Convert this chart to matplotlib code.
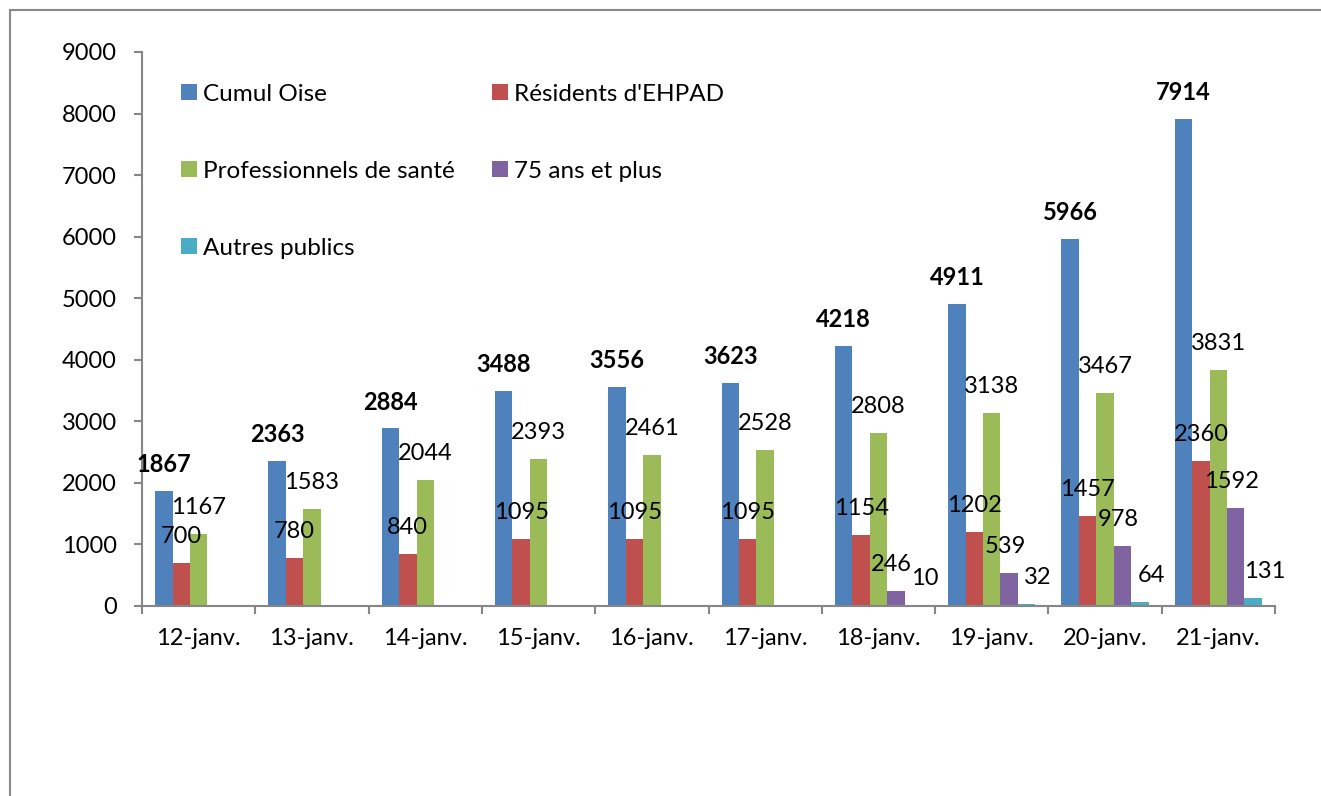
import numpy as np
import matplotlib.pyplot as plt
from matplotlib.patches import Rectangle

plt.rcParams['font.family'] = ['Lato', 'DejaVu Sans']

days = ['12-janv.', '13-janv.', '14-janv.', '15-janv.', '16-janv.',
        '17-janv.', '18-janv.', '19-janv.', '20-janv.', '21-janv.']
cumul_oise = [1867, 2363, 2884, 3488, 3556, 3623, 4218, 4911, 5966, 7914]
residents_ehpad = [700, 780, 840, 1095, 1095, 1095, 1154, 1202, 1457, 2360]
pro_sante = [1167, 1583, 2044, 2393, 2461, 2528, 2808, 3138, 3467, 3831]
plus_75 = [0, 0, 0, 0, 0, 0, 246, 539, 978, 1592]
autres = [0, 0, 0, 0, 0, 0, 10, 32, 64, 131]

# name, values, colour, bold label, label x nudge (pt)
series = [
    ('Cumul Oise', cumul_oise, '#4F81BD', True, 0),
    ("Résidents d'EHPAD", residents_ehpad, '#C0504D', False, 0),
    ('Professionnels de santé', pro_sante, '#9BBB59', False, 0),
    ('75 ans et plus', plus_75, '#8064A2', False, -3),
    ('Autres publics', autres, '#4BACC6', False, 8),
]

W, H = 1321, 796
fig = plt.figure(figsize=(W / 100, H / 100), dpi=100)
ax = fig.add_axes([142 / W, 1 - 606 / H, (1275 - 142) / W, (606 - 52) / H])

# outer frame of the chart area
fig.patches.append(Rectangle((10 / W, -0.2), 1.2, 1.2 - 12 / H + 0.002,
                             transform=fig.transFigure, fill=False,
                             edgecolor='#898989', linewidth=1.5))

x = np.arange(len(days))
w = 1 / 6.5
fs = 17
handles = []
for k, (name, vals, col, bold, dx) in enumerate(series):
    pos = x + (k - 2) * w
    b = ax.bar(pos, vals, width=w, color=col, label=name, zorder=2)
    handles.append(b)
    for px, v in zip(pos, vals):
        if v > 0:
            ax.annotate(str(v), (px, v), xytext=(dx, 19), textcoords='offset points',
                        ha='center', va='center', fontsize=fs,
                        fontweight='bold' if bold else 'normal')

ax.set_xlim(-0.5, len(days) - 0.5)
ax.set_ylim(0, 9000)
ax.set_yticks(range(0, 9001, 1000))
ax.tick_params(axis='y', labelsize=fs, length=6, width=1.5, color='#868686', pad=12)

ax.set_xticks(np.arange(-0.5, len(days), 1))
ax.set_xticklabels([])
ax.tick_params(axis='x', which='major', length=6, width=1.5, color='#868686')
ax.set_xticks(x, minor=True)
ax.set_xticklabels(days, minor=True)
ax.tick_params(axis='x', which='minor', length=0, labelsize=fs, pad=16)

for s in ['top', 'right']:
    ax.spines[s].set_visible(False)
for s in ['left', 'bottom']:
    ax.spines[s].set_color('#868686')
    ax.spines[s].set_linewidth(1.5)

order = [0, 2, 4, 1, 3]
leg = ax.legend([handles[i] for i in order], [series[i][0] for i in order],
                ncol=2, loc='upper left', bbox_to_anchor=(0.026, 0.96),
                frameon=False, fontsize=17.5, handlelength=0.65, handleheight=0.65,
                handletextpad=0.25, labelspacing=2.3, columnspacing=1.55,
                borderaxespad=0)

fig.savefig('out.png', dpi=100)
